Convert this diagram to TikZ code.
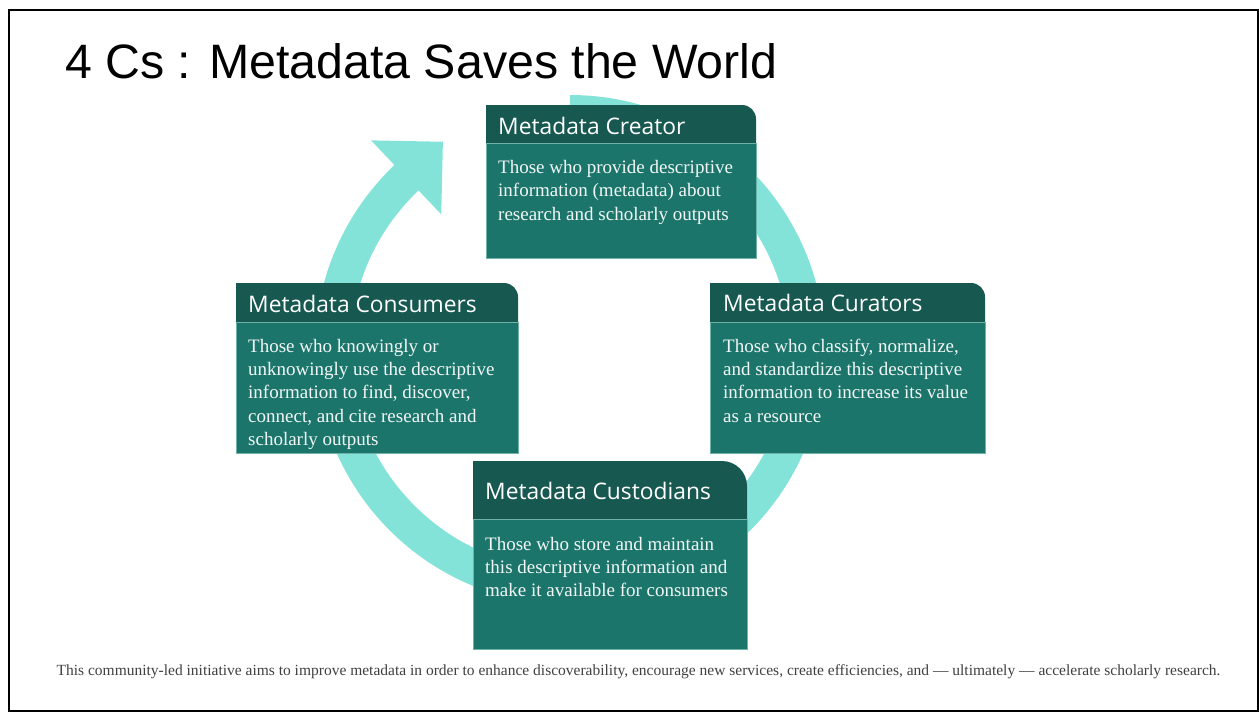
\documentclass[tikz,border=0pt]{standalone}
\usepackage{fontspec}
\setmainfont{Liberation Serif}
\newfontfamily\titlefont{Liberation Sans}
\newfontfamily\headfont{Open Sans}

\definecolor{ringcol}{HTML}{84E3D8}
\definecolor{headcol}{HTML}{175950}
\definecolor{bodycol}{HTML}{1C756B}
\definecolor{edgecol}{HTML}{6FB3A8}
\definecolor{notecol}{HTML}{404040}

\tikzset{
  headbar/.style={fill=headcol},
  bodypanel/.style={fill=bodycol, draw=edgecol, line width=0.8pt},
  headtext/.style={anchor=base west, inner sep=0pt, text=white,
    font=\headfont\fontsize{22.8}{26}\selectfont},
  roletext/.style={anchor=base west, inner sep=0pt, text=white!94!bodycol,
    align=left, font=\fontsize{19}{23.4}\selectfont},
}

\begin{document}
\begin{tikzpicture}[x=1pt,y=-1pt]
  \useasboundingbox (0,0) rectangle (1259,713);
  \draw[line width=1.5pt] (9,10) rectangle (1258,711);

  % Title
  \node[anchor=base west, inner sep=0pt, font=\titlefont\fontsize{48.3}{58}\selectfont]
    (title) at (65,78) {4 Cs : Metadata Saves the World};

  % Cycle arrow
  \coordinate (c) at (570,350);
  \fill[ringcol] ([shift={(90:255pt)}]c) arc[start angle=90, end angle=-226.5, radius=255pt]
    -- ([shift={(-226.5:289pt)}]c) -- ([shift={(-238.6:244pt)}]c)
    -- ([shift={(-226.5:187pt)}]c) -- ([shift={(-226.5:220pt)}]c)
    arc[start angle=-226.5, end angle=90, radius=220pt] -- cycle;

  % Boxes
  \path[headbar] (486,143) -- (486,105) -- (742,105) arc[start angle=90, end angle=0, radius=14pt] -- (756,143) -- cycle;
  \path[bodypanel] (486,143) rectangle (756,258);

  \path[headbar] (236,322) -- (236,283) -- (504,283) arc[start angle=90, end angle=0, radius=14pt] -- (518,322) -- cycle;
  \path[bodypanel] (236,322) rectangle (518,453);

  \path[headbar] (710,322) -- (710,283) -- (971,283) arc[start angle=90, end angle=0, radius=14pt] -- (985,322) -- cycle;
  \path[bodypanel] (710,322) rectangle (985,453);

  \path[headbar] (473,519) -- (473,461) -- (722,461) arc[start angle=90, end angle=0, radius=25pt] -- (747,519) -- cycle;
  \path[bodypanel] (473,519) rectangle (747,649);

  % Labels (body nodes sit on the baseline of their last line)
  \node[headtext] (creH) at (498,134) {Metadata Creator};
  \node[roletext] (creB) at (498,220) {Those who provide descriptive\\information (metadata) about\\research and scholarly outputs};

  \node[headtext] (conH) at (248,312) {Metadata Consumers};
  \node[roletext] (conB) at (248,445.6) {Those who knowingly or\\unknowingly use the descriptive\\information to find, discover,\\connect, and cite research and\\scholarly outputs};

  \node[headtext] (curH) at (723,311) {Metadata Curators};
  \node[roletext] (curB) at (723,422.2) {Those who classify, normalize,\\and standardize this descriptive\\information to increase its value\\as a resource};

  \node[headtext] (cusH) at (485,499) {Metadata Custodians};
  \node[roletext] (cusB) at (485,596.8) {Those who store and maintain\\this descriptive information and\\make it available for consumers};

  \node[anchor=base, inner sep=0pt, text=notecol, font=\fontsize{15.5}{18}\selectfont]
    (note) at (638.5,675) {This community-led initiative aims to improve metadata in order to enhance discoverability, encourage new services, create efficiencies, and — ultimately — accelerate scholarly research.};
\end{tikzpicture}
\end{document}
